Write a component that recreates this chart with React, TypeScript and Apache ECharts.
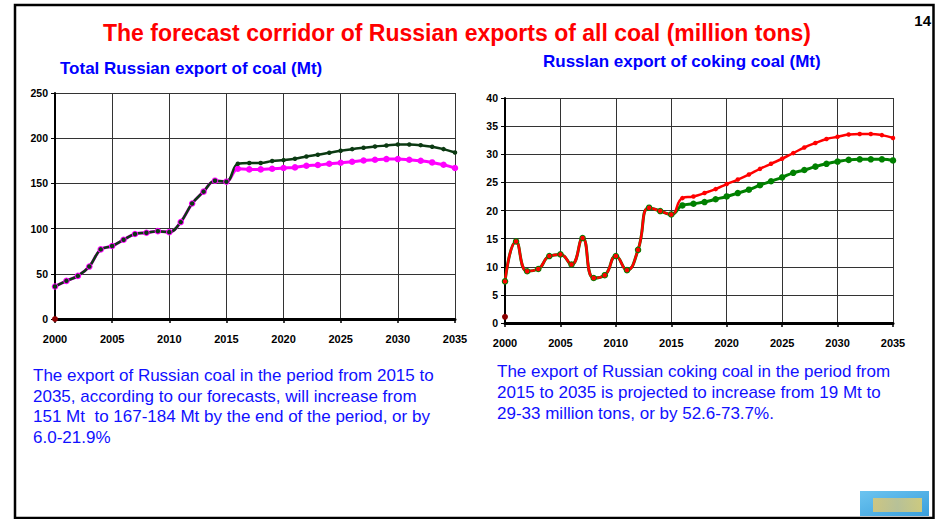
import React, { useEffect, useRef } from "react";
import * as echarts from "echarts";

const years = [
  2000, 2001, 2002, 2003, 2004, 2005, 2006, 2007, 2008, 2009, 2010, 2011,
  2012, 2013, 2014, 2015, 2016, 2017, 2018, 2019, 2020, 2021, 2022, 2023,
  2024, 2025, 2026, 2027, 2028, 2029, 2030, 2031, 2032, 2033, 2034, 2035,
];

// Total Russian export of coal (Mt)
const totalHigh = [
  36, 42.2, 47.7, 58, 77, 80.7, 87.7, 94, 95.4, 97.2, 96.1, 107.2, 127.7,
  140.9, 153, 151.9, 171.7, 172.5, 172.5, 174.7, 175.8, 177.2, 179.8, 181.7,
  183.9, 186.1, 187.9, 189.4, 190.8, 191.9, 193, 193, 192.3, 190.5, 187.9,
  184.2,
];
const totalLow = [
  36, 42.2, 47.7, 58, 77, 80.7, 87.7, 94, 95.4, 97.2, 96.1, 107.2, 127.7,
  140.9, 153, 151.9, 166.2, 165.5, 165.5, 166.2, 167, 167.7, 169.5, 170.3,
  171.7, 172.8, 174, 175.3, 176.1, 176.9, 176.9, 176.1, 175, 173.2, 170.6, 167,
];
const totalBase = [0];

// Russian export of coking coal (Mt)
const cokingHigh = [
  7.4, 14.5, 9.2, 9.6, 11.9, 12.2, 10.4, 15.1, 8.0, 8.5, 11.9, 9.4, 13.0,
  20.5, 19.9, 19.3, 22.2, 22.5, 23.1, 23.8, 24.7, 25.5, 26.4, 27.4, 28.3, 29.2,
  30.2, 31.2, 32.0, 32.7, 33.1, 33.5, 33.6, 33.6, 33.4, 32.9,
];
const cokingLow = [
  7.4, 14.5, 9.2, 9.6, 11.9, 12.2, 10.4, 15.1, 8.0, 8.5, 11.9, 9.4, 13.0,
  20.5, 19.9, 19.3, 20.9, 21.2, 21.5, 22.0, 22.5, 23.1, 23.7, 24.5, 25.2, 25.9,
  26.7, 27.2, 27.8, 28.3, 28.7, 29.0, 29.1, 29.1, 29.1, 28.9,
];
const cokingBase = [1.1];

const mainTitle =
  "The forecast corridor of Russian exports of all coal (million tons)";
const leftTitle = "Total Russian export of coal (Mt)";
const rightTitle = "Russlan export of coking coal (Mt)";
const leftText = [
  "The export of Russian coal in the period from 2015 to",
  "2035, according to our forecasts, will increase from",
  "151 Mt  to 167-184 Mt by the end of the period, or by",
  "6.0-21.9%",
];
const rightText = [
  "The export of Russian coking coal in the period from",
  "2015 to 2035 is projected to increase from 19 Mt to",
  "29-33 million tons, or by 52.6-73.7%.",
];

const FONT = "'Liberation Sans', Arial, sans-serif";
const NARROW = "'Liberation Sans Narrow', 'Arial Narrow', 'Liberation Sans', Arial, sans-serif";

const pairs = (vals: number[]) => vals.map((v, i) => [years[i], v]);

function xAxisCfg(gridIndex: number) {
  return {
    gridIndex,
    type: "value",
    min: 2000,
    max: 2035,
    interval: 5,
    axisLine: { show: true, onZero: false, lineStyle: { color: "#000", width: 3 } },
    axisTick: { show: true, length: 4, lineStyle: { color: "#000", width: 1.5 } },
    axisLabel: {
      margin: 14,
      fontSize: 11,
      fontWeight: "bold",
      color: "#000",
      fontFamily: NARROW,
      formatter: (v: number) => String(v),
    },
    splitLine: { show: true, lineStyle: { color: "#333", width: 1 } },
  };
}

function yAxisCfg(gridIndex: number, max: number, interval: number) {
  return {
    gridIndex,
    type: "value",
    min: 0,
    max,
    interval,
    axisLine: { show: true, onZero: false, lineStyle: { color: "#000", width: 2 } },
    axisTick: { show: true, length: 4, lineStyle: { color: "#000", width: 1 } },
    axisLabel: {
      margin: 7,
      fontSize: 10.5,
      fontWeight: "bold",
      color: "#000",
      fontFamily: NARROW,
    },
    splitLine: { show: true, lineStyle: { color: "#333", width: 1 } },
  };
}

export default function App() {
  const ref = useRef<HTMLDivElement>(null);
  useEffect(() => {
    if (!ref.current) return;
    const chart = echarts.init(ref.current, undefined, { renderer: "svg" });
    const option: any = {
      animation: false,
      backgroundColor: "#fff",
      grid: [
        { left: 55, top: 93, width: 400, height: 226 },
        { left: 505, top: 98, width: 388, height: 225 },
      ],
      xAxis: [xAxisCfg(0), xAxisCfg(1)],
      yAxis: [yAxisCfg(0, 250, 50), yAxisCfg(1, 40, 5)],
      series: [
        {
          name: "Low",
          type: "line",
          xAxisIndex: 0,
          yAxisIndex: 0,
          data: pairs(totalLow),
          smooth: 0.4,
          symbol: "circle",
          symbolSize: 6.5,
          lineStyle: { color: "#ff00ff", width: 3 },
          itemStyle: { color: "#ff00ff" },
        },
        {
          name: "High",
          type: "line",
          xAxisIndex: 0,
          yAxisIndex: 0,
          data: pairs(totalHigh),
          smooth: 0.4,
          symbol: "circle",
          symbolSize: 4.5,
          lineStyle: { color: "#0b3a12", width: 2.5 },
          itemStyle: { color: "#0b3a12" },
        },
        {
          name: "Base",
          type: "line",
          xAxisIndex: 0,
          yAxisIndex: 0,
          data: pairs(totalBase),
          symbol: "circle",
          symbolSize: 6,
          itemStyle: { color: "#8b0000" },
        },
        {
          name: "Low coking",
          type: "line",
          xAxisIndex: 1,
          yAxisIndex: 1,
          data: pairs(cokingLow),
          smooth: 0.5,
          symbol: "circle",
          symbolSize: 6.5,
          lineStyle: { color: "#008000", width: 3 },
          itemStyle: { color: "#008000" },
        },
        {
          name: "High coking",
          type: "line",
          xAxisIndex: 1,
          yAxisIndex: 1,
          data: pairs(cokingHigh),
          smooth: 0.5,
          symbol: "circle",
          symbolSize: 4.5,
          lineStyle: { color: "#ff0000", width: 2.5 },
          itemStyle: { color: "#ff0000" },
        },
        {
          name: "Base coking",
          type: "line",
          xAxisIndex: 1,
          yAxisIndex: 1,
          data: pairs(cokingBase),
          symbol: "circle",
          symbolSize: 6,
          itemStyle: { color: "#8b0000" },
        },
      ],
      graphic: [
        {
          type: "rect",
          shape: { x: 15, y: 5, width: 918.5, height: 513 },
          style: { fill: "none", stroke: "#000", lineWidth: 2.5 },
          silent: true,
        },
        {
          type: "text",
          x: 457,
          y: 33,
          style: {
            text: mainTitle,
            font: `bold 23px ${FONT}`,
            fill: "#ff0000",
            textAlign: "center",
            textVerticalAlign: "middle",
          },
        },
        {
          type: "text",
          x: 931,
          y: 20,
          style: {
            text: "14",
            font: `bold 15px ${FONT}`,
            fill: "#000",
            textAlign: "right",
            textVerticalAlign: "middle",
          },
        },
        {
          type: "text",
          x: 60,
          y: 68,
          style: {
            text: leftTitle,
            font: `bold 17px ${FONT}`,
            fill: "#0000ff",
            textAlign: "left",
            textVerticalAlign: "middle",
          },
        },
        {
          type: "text",
          x: 543,
          y: 61,
          style: {
            text: rightTitle,
            font: `bold 17px ${FONT}`,
            fill: "#0000ff",
            textAlign: "left",
            textVerticalAlign: "middle",
          },
        },
        {
          type: "text",
          x: 33,
          y: 365,
          style: {
            text: leftText.join("\n"),
            font: `17px ${FONT}`,
            lineHeight: 20.7,
            fill: "#1010ff",
            textAlign: "left",
            textVerticalAlign: "top",
          },
        },
        {
          type: "text",
          x: 497,
          y: 361.5,
          style: {
            text: rightText.join("\n"),
            font: `17px ${FONT}`,
            lineHeight: 20.7,
            fill: "#1010ff",
            textAlign: "left",
            textVerticalAlign: "top",
          },
        },
        {
          type: "rect",
          shape: { x: 860, y: 491, width: 69, height: 25 },
          style: {
            fill: new echarts.graphic.LinearGradient(0, 0, 1, 1, [
              { offset: 0, color: "#6cc4f0" },
              { offset: 1, color: "#3a9fdc" },
            ]),
          },
          silent: true,
        },
        {
          type: "rect",
          shape: { x: 873, y: 498, width: 49, height: 14 },
          style: {
            fill: new echarts.graphic.LinearGradient(0, 0, 1, 0, [
              { offset: 0, color: "#e0c870" },
              { offset: 0.5, color: "#c9c48a" },
              { offset: 1, color: "#e3cf6e" },
            ]),
            opacity: 0.85,
          },
          silent: true,
        },
      ],
    };
    chart.setOption(option);
    return () => chart.dispose();
  }, []);
  return (
    <div
      ref={ref}
      style={{ position: "fixed", left: 0, top: 0, width: 941, height: 519 }}
    />
  );
}
